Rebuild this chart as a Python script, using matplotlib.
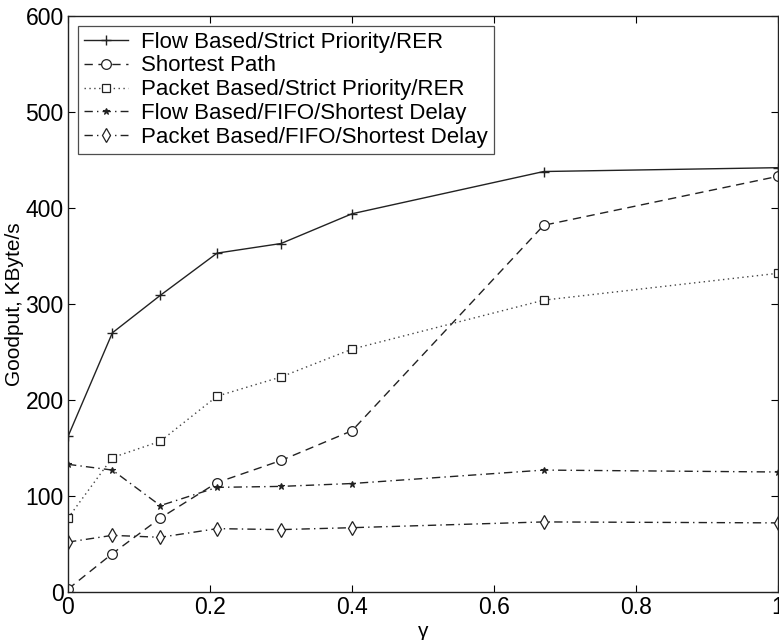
import matplotlib
matplotlib.use("Agg")
import matplotlib.pyplot as plt

plt.rcParams['font.family'] = ['Liberation Sans', 'DejaVu Sans']

gamma = [0, 0.0625, 0.13, 0.21, 0.30, 0.40, 0.67, 1.0]
flow_sp_rer = [162, 270, 309, 353, 363, 394, 438, 442]
shortest_path = [3, 40, 77, 114, 137, 168, 382, 433]
packet_sp_rer = [77, 140, 157, 204, 224, 253, 304, 332]
flow_fifo_sd = [133, 127, 90, 109, 110, 113, 127, 125]
packet_fifo_sd = [52, 59, 57, 66, 65, 67, 73, 72]

labels = ["Flow Based/Strict Priority/RER", "Shortest Path",
          "Packet Based/Strict Priority/RER", "Flow Based/FIFO/Shortest Delay",
          "Packet Based/FIFO/Shortest Delay"]
xticks = [0, 0.2, 0.4, 0.6, 0.8, 1]
yticks = [0, 100, 200, 300, 400, 500, 600]

fig = plt.figure(figsize=(7.79, 6.4), dpi=100)
ax = fig.add_axes([68/779, 1-592/640, (778-68)/779, (592-16)/640])

c = '#222222'
ax.plot(gamma, flow_sp_rer, '-', color=c, lw=1.0, marker='+', ms=7, mew=1.0, label=labels[0])
ax.plot(gamma, shortest_path, color=c, lw=1.0, ls=(0, (6, 4)), marker='o', ms=7,
        mfc='white', mew=0.9, label=labels[1])
ax.plot(gamma, packet_sp_rer, color='#444444', lw=1.0, ls=(0, (1, 2.5)), marker='s', ms=6,
        mfc='white', mec=c, mew=0.9, label=labels[2])
ax.plot(gamma, flow_fifo_sd, color=c, lw=1.0, ls=(0, (6, 3, 1, 3)), marker='*', ms=5,
        mew=0.8, label=labels[3])
ax.plot(gamma, packet_fifo_sd, color=c, lw=1.0, ls=(0, (6, 3, 1, 3)), marker='d', ms=7,
        mfc='white', mew=0.9, label=labels[4])

ax.set_xlim(0, 1)
ax.set_ylim(0, 600)
ax.set_xticks(xticks)
ax.set_xticklabels([str(t) for t in xticks])
ax.set_yticks(yticks)
ax.tick_params(direction='in', top=True, right=True, labelsize=16.5, length=5, width=0.8,
               pad=3)
for s in ax.spines.values():
    s.set_linewidth(1.0)
    s.set_color(c)

ax.set_xlabel('γ', fontsize=15, labelpad=2)
ax.set_ylabel('Goodput, KByte/s', fontsize=15, labelpad=1)

leg = ax.legend(loc='upper left', fontsize=16, frameon=True, fancybox=False,
                edgecolor=c, borderaxespad=0.45, handlelength=2.0, labelspacing=0.13,
                borderpad=0.25, handletextpad=0.6)
leg.get_frame().set_linewidth(0.9)

fig.savefig('out.png', dpi=100)
